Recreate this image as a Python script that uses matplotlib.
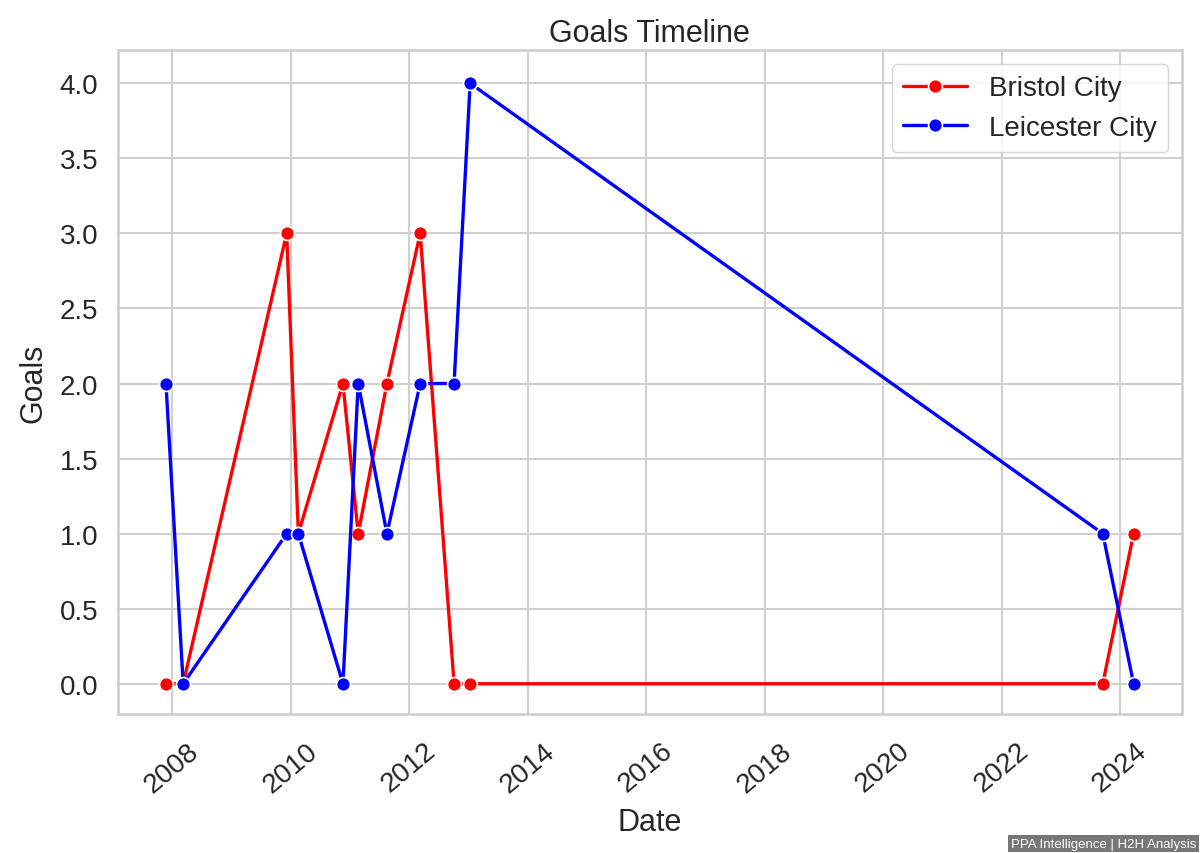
import matplotlib
matplotlib.use("Agg")
import matplotlib.pyplot as plt
import matplotlib.dates as mdates
import pandas as pd
import seaborn as sns

dates = pd.to_datetime([
    "2007-11-25", "2008-03-10", "2009-12-08", "2010-02-18", "2010-11-20", "2011-02-22",
    "2011-08-18", "2012-03-10", "2012-10-05", "2013-01-12", "2023-09-17", "2024-03-25",
])
bristol_goals = [0, 0, 3, 1, 2, 1, 2, 3, 0, 0, 0, 1]
leicester_goals = [2, 0, 1, 1, 0, 2, 1, 2, 2, 4, 1, 0]

sns.set_theme(style="whitegrid")
plt.rcParams["font.family"] = ["Liberation Sans", "DejaVu Sans"]

fig, ax = plt.subplots(figsize=(12, 8.54), dpi=100)
for label, goals, color in [("Bristol City", bristol_goals, "red"),
                            ("Leicester City", leicester_goals, "blue")]:
    ax.plot(dates, goals, color=color, linewidth=2.4, marker="o", markersize=10,
            markeredgecolor="white", markeredgewidth=1.2, label=label)

ax.set_title("Goals Timeline", fontsize=22, pad=7)
ax.set_xlabel("Date", fontsize=22, labelpad=7)
ax.set_ylabel("Goals", fontsize=22, labelpad=8)
ax.xaxis.set_major_locator(mdates.YearLocator(2))
ax.xaxis.set_major_formatter(mdates.DateFormatter("%Y"))
ax.tick_params(axis="y", labelsize=20, pad=8)
ax.tick_params(axis="x", labelsize=20, pad=11)
plt.setp(ax.get_xticklabels(), rotation=40)
ax.set_yticks([0, 0.5, 1, 1.5, 2, 2.5, 3, 3.5, 4])
ax.set_yticklabels([f"{v:.1f}" for v in ax.get_yticks()])
ax.set_ylim(-0.2, 4.22)
ax.grid(linewidth=1.5, color="#d0d0d0")
for spine in ax.spines.values():
    spine.set_color("#cccccc")
    spine.set_linewidth(1.8)
ax.legend(fontsize=20, loc="upper right", frameon=True, handlelength=2.3)

fig.subplots_adjust(left=0.098, right=0.985, top=0.94, bottom=0.163)
fig.text(0.997, 0.004, "PPA Intelligence | H2H Analysis", ha="right", va="bottom",
         fontsize=9.5, color="white",
         bbox=dict(facecolor="#777777", edgecolor="none", pad=2))
fig.savefig("out.png", dpi=100)
